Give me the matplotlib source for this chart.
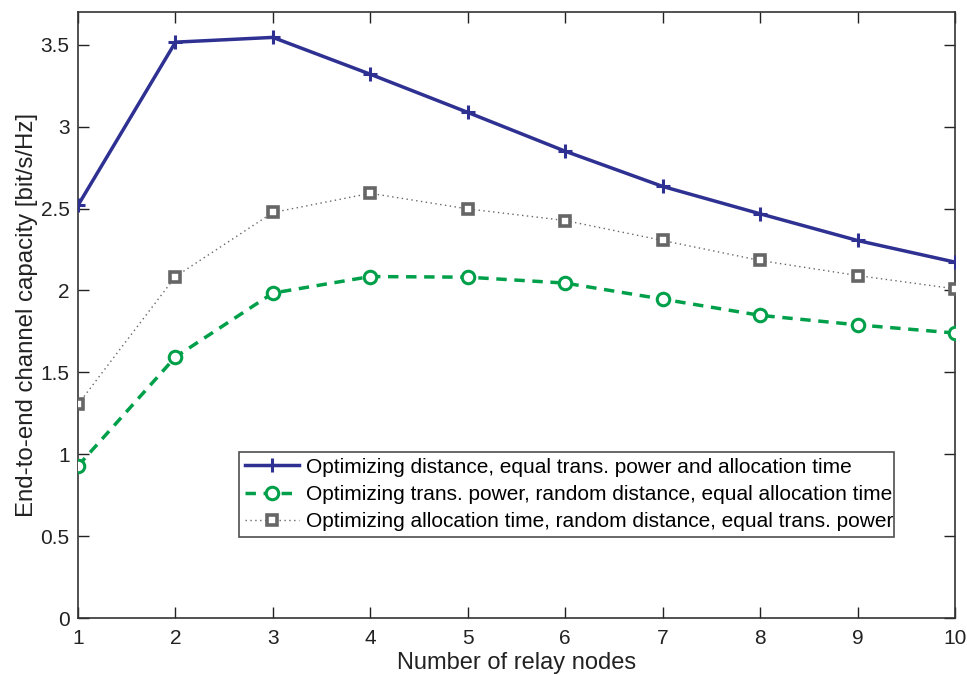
import matplotlib
matplotlib.use("Agg")
import matplotlib.pyplot as plt

plt.rcParams['font.family'] = ['Liberation Sans', 'DejaVu Sans']

relays = [1, 2, 3, 4, 5, 6, 7, 8, 9, 10]
opt_distance = [2.52, 3.516, 3.545, 3.32, 3.087, 2.85, 2.635, 2.468, 2.305, 2.173]
opt_power = [0.929, 1.594, 1.984, 2.085, 2.081, 2.045, 1.947, 1.848, 1.79, 1.74]
opt_time = [1.305, 2.085, 2.476, 2.593, 2.498, 2.427, 2.305, 2.183, 2.091, 2.01]

labels = [
    "Optimizing distance, equal trans. power and allocation time",
    "Optimizing trans. power, random distance, equal allocation time",
    "Optimizing allocation time, random distance, equal trans. power",
]

fig = plt.figure(figsize=(9.67, 6.75), dpi=100)
ax = fig.add_axes([0.0807, 0.0844, 0.9069, 0.8978])

ax.plot(relays, opt_distance, color='#2E3192', lw=2.5, marker='+',
        ms=10, mew=2.2, label=labels[0], zorder=3)
ax.plot(relays, opt_power, color='#00A04A', lw=2.5, ls=(0, (3, 2.2)),
        marker='o', ms=9, mew=2.2, mfc='white', label=labels[1], zorder=3)
ax.plot(relays, opt_time, color='#666666', lw=1.0, ls=(0, (1, 2.5)),
        marker='s', ms=6.5, mew=2.6, mfc='white', label=labels[2], zorder=3)

ax.set_xlim(1, 10)
ax.set_ylim(0, 3.7)
ax.set_xticks(relays)
ax.set_yticks([0, 0.5, 1, 1.5, 2, 2.5, 3, 3.5])
ax.set_yticklabels(['0', '0.5', '1', '1.5', '2', '2.5', '3', '3.5'])
ax.tick_params(direction='in', top=True, right=True, length=8, width=1,
               labelsize=15, colors='#222222', pad=6)
ax.tick_params(axis='x', pad=8)
for s in ax.spines.values():
    s.set_linewidth(1.2)
    s.set_color('#333333')

ax.set_xlabel("Number of relay nodes", fontsize=17, labelpad=3, color='#222222')
ax.set_ylabel("End-to-end channel capacity [bit/s/Hz]", fontsize=17.3,
              labelpad=2, color='#222222')

leg = ax.legend(loc='lower left', bbox_to_anchor=(0.184, 0.1337, 0.747, 0.143),
                mode='expand', fontsize=15, frameon=True, fancybox=False,
                borderpad=0.28, labelspacing=0.4, handlelength=2.6,
                handletextpad=0.3, borderaxespad=0)
leg.get_frame().set_edgecolor('#222222')
leg.get_frame().set_linewidth(1.2)

fig.savefig("out.png", dpi=100)
